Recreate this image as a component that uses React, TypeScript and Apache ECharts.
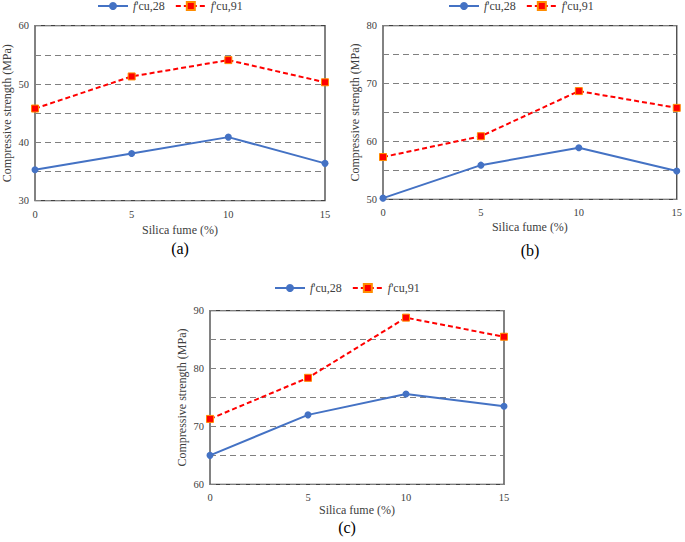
import React, { useEffect, useRef } from "react";
import * as echarts from "echarts";

const silicaFume = [0, 5, 10, 15];
const seriesNames = ["f'cu,28", "f'cu,91"];
const panelLabels = ["(a)", "(b)", "(c)"];
const xTitle = "Silica fume (%)";
const yTitle = "Compressive strength (MPa)";
const a28 = [35.3, 38.1, 40.9, 36.4];
const a91 = [45.8, 51.3, 54.1, 50.3];
const b28 = [50.2, 55.9, 58.9, 54.9];
const b91 = [57.3, 60.9, 68.7, 65.8];
const c28 = [65.0, 72.0, 75.6, 73.5];
const c91 = [71.3, 78.4, 88.8, 85.5];
const yRanges = [
  [30, 60],
  [50, 80],
  [60, 90],
];

const FONT = "Liberation Serif";

export default function App() {
  const ref = useRef<HTMLDivElement>(null);
  useEffect(() => {
    if (!ref.current) return;
    const chart = echarts.init(ref.current, null, { renderer: "svg" });
    const grids = [
      { left: 35, top: 25.7, width: 290, height: 175 },
      { left: 383, top: 25.7, width: 297, height: 173.6 },
      { left: 210, top: 310.7, width: 294, height: 173.6 },
    ];
    const xNameGaps = [23, 22, 18];
    const data = [
      [a28, a91],
      [b28, b91],
      [c28, c91],
    ];
    const legendPos = [
      { left: 97, top: 0 },
      { left: 448, top: 0 },
      { left: 274, top: 282 },
    ];
    const labelPos = [
      { x: 180, y: 248 },
      { x: 530, y: 250 },
      { x: 347, y: 527 },
    ];
    const series: any[] = [];
    data.forEach((pair, gi) => {
      pair.forEach((vals, si) => {
        const isRed = si === 1;
        series.push({
          name: seriesNames[si],
          type: "line",
          xAxisIndex: gi,
          yAxisIndex: gi,
          data: silicaFume.map((x, i) => [x, vals[i]]),
          symbol: isRed ? "rect" : "circle",
          symbolSize: 7,
          clip: false,
          lineStyle: {
            color: isRed ? "#FF0000" : "#4472C4",
            width: 2,
            type: isRed ? [5, 3] : "solid",
          },
          itemStyle: {
            color: isRed ? "#FF0000" : "#4472C4",
            borderColor: isRed ? "#FF8C00" : "#4472C4",
            borderWidth: isRed ? 1 : 0,
          },
          z: isRed ? 3 : 2,
        });
      });
    });
    const legendFormatter = (name: string) =>
      "{i|f}{n|" + name.slice(1) + "}";
    chart.setOption({
      animation: false,
      backgroundColor: "#ffffff",
      textStyle: { fontFamily: FONT },
      grid: grids.map((g) => ({
        ...g,
        show: true,
        borderColor: "#404040",
        borderWidth: 1.3,
        containLabel: false,
      })),
      legend: legendPos.map((p) => ({
        ...p,
        padding: 0,
        data: seriesNames,
        itemWidth: 30,
        itemHeight: 10,
        itemGap: 10,
        formatter: legendFormatter,
        textStyle: {
          fontFamily: FONT,
          fontSize: 12,
          color: "#404040",
          rich: {
            i: { fontFamily: FONT, fontSize: 12, fontStyle: "italic", color: "#404040" },
            n: { fontFamily: FONT, fontSize: 12, color: "#404040" },
          },
        },
      })),
      xAxis: grids.map((_, gi) => ({
        type: "value",
        gridIndex: gi,
        min: 0,
        max: 15,
        interval: 5,
        name: xTitle,
        nameLocation: "middle",
        nameGap: xNameGaps[gi],
        nameTextStyle: { fontFamily: FONT, fontSize: 12, color: "#404040" },
        axisLine: { show: false },
        axisTick: { show: false },
        splitLine: { show: false },
        axisLabel: { fontFamily: FONT, fontSize: 10.5, color: "#404040", margin: 8 },
      })),
      yAxis: grids.map((_, gi) => ({
        type: "value",
        gridIndex: gi,
        min: yRanges[gi][0],
        max: yRanges[gi][1],
        interval: 5,
        name: yTitle,
        nameLocation: "middle",
        nameGap: 22,
        nameTextStyle: { fontFamily: FONT, fontSize: 12, color: "#404040" },
        axisLine: { show: false },
        axisTick: { show: false },
        splitLine: { show: true, lineStyle: { color: "#808080", type: [6, 4], width: 1 } },
        axisLabel: {
          fontFamily: FONT,
          fontSize: 10.5,
          color: "#404040",
          margin: 6,
          formatter: (v: number) => (v % 10 === 0 ? String(v) : ""),
        },
      })),
      graphic: labelPos.map((p, i) => ({
        type: "text",
        x: p.x,
        y: p.y,
        style: {
          text: panelLabels[i],
          fontFamily: FONT,
          fontSize: 16,
          fill: "#000000",
          align: "center",
          verticalAlign: "middle",
        },
      })),
      series,
    });
    return () => chart.dispose();
  }, []);
  return (
    <div
      ref={ref}
      style={{ position: "fixed", left: 0, top: 0, width: 685, height: 542 }}
    />
  );
}
